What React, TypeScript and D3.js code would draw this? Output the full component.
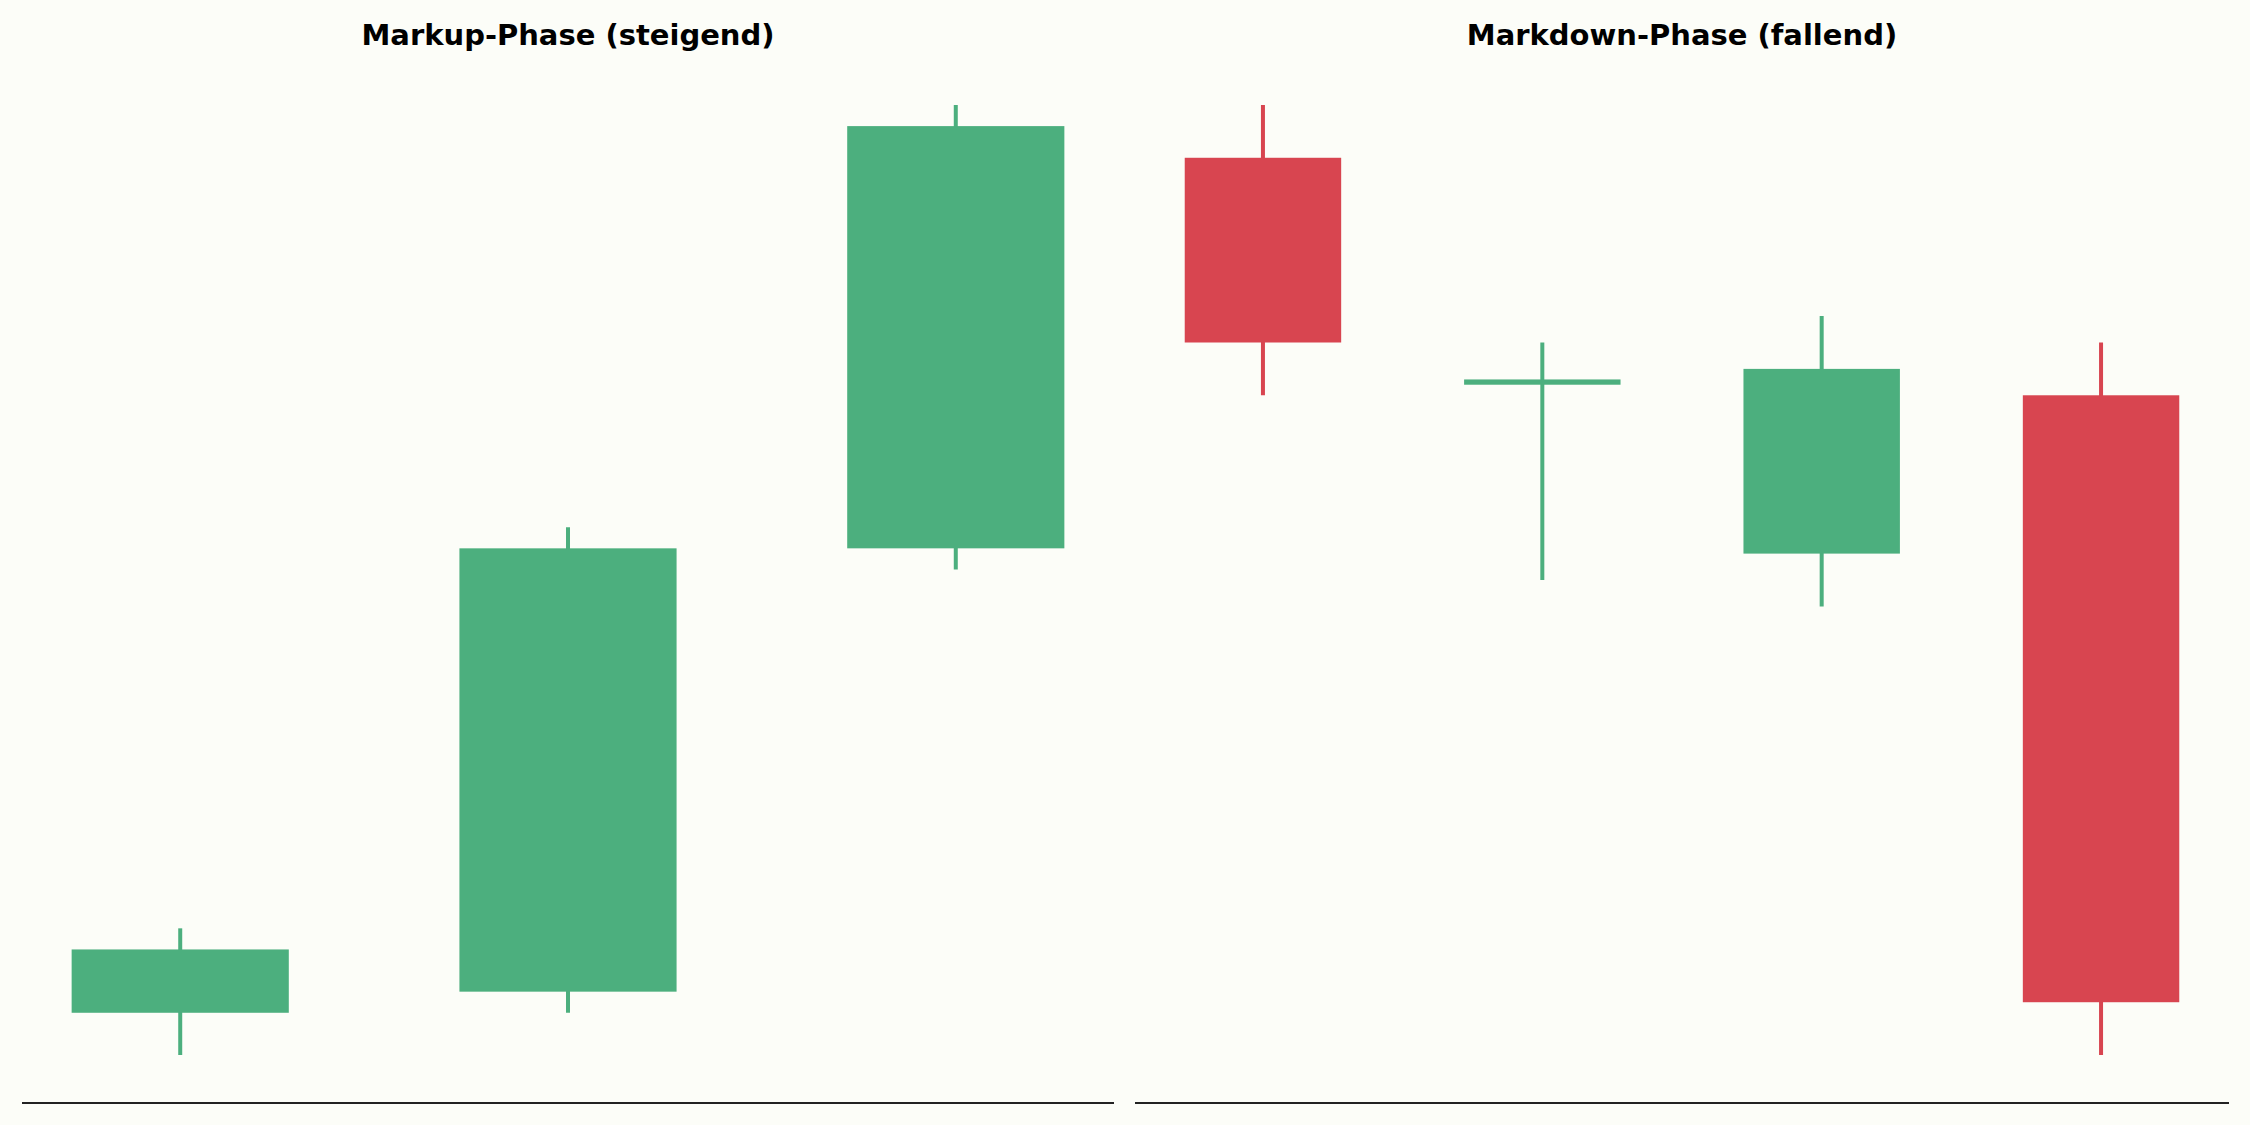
import { useEffect } from 'react'
import * as d3 from 'd3'

const WIDTH = 2250
const HEIGHT = 1125

const BG = '#fcfdf8'
const UP = '#4caf7e'
const DOWN = '#d84550'

// Markup-Phase candles (open, high, low, close)
const markupOpen = [100, 101, 122]
const markupHigh = [104, 123, 143]
const markupLow = [98, 100, 121]
const markupClose = [103, 122, 142]

// Markdown-Phase candles
const markdownOpen = [118, 109.4, 103, 109]
const markdownHigh = [120, 111, 112, 111]
const markdownLow = [109, 102, 101, 84]
const markdownClose = [111, 109.6, 110, 86]

const titles = ['Markup-Phase (steigend)', 'Markdown-Phase (fallend)']

const BODY_WIDTH = 0.56
const AXES_TOP = 57.5
const AXES_BOTTOM = 1102.5

interface Candle {
  o: number
  h: number
  l: number
  c: number
}

function zip(o: number[], h: number[], l: number[], c: number[]): Candle[] {
  return o.map((v, i) => ({ o: v, h: h[i], l: l[i], c: c[i] }))
}

function Panel({ candles, title, left, width }: { candles: Candle[]; title: string; left: number; width: number }) {
  const n = candles.length
  const x0 = -BODY_WIDTH / 2
  const x1 = n - 1 + BODY_WIDTH / 2
  const xPad = (x1 - x0) * 0.05
  const x = d3.scaleLinear().domain([x0 - xPad, x1 + xPad]).range([0, width])

  const yMin = d3.min(candles, (d) => d.l) ?? 0
  const yMax = d3.max(candles, (d) => d.h) ?? 1
  const yPad = (yMax - yMin) * 0.05
  const y = d3.scaleLinear().domain([yMin - yPad, yMax + yPad]).range([AXES_BOTTOM, AXES_TOP])

  const bw = x(BODY_WIDTH) - x(0)

  return (
    <g transform={`translate(${left},0)`}>
      <text
        x={width / 2}
        y={45}
        textAnchor="middle"
        fontFamily="DejaVu Sans"
        fontWeight="bold"
        fontSize={29}
        fill="#000"
      >
        {title}
      </text>
      {candles.map((d, i) => {
        const col = d.c >= d.o ? UP : DOWN
        const top = y(Math.max(d.o, d.c))
        const bot = y(Math.min(d.o, d.c))
        return (
          <g key={i}>
            <line x1={x(i)} x2={x(i)} y1={y(d.h)} y2={y(d.l)} stroke={col} strokeWidth={4} />
            <rect x={x(i) - bw / 2} y={top} width={bw} height={Math.max(bot - top, 1)} fill={col} />
          </g>
        )
      })}
      <line x1={0} x2={width} y1={1103} y2={1103} stroke="#222" strokeWidth={2} />
    </g>
  )
}

export default function App() {
  useEffect(() => {
    document.body.style.margin = '0'
  }, [])

  const markup = zip(markupOpen, markupHigh, markupLow, markupClose)
  const markdown = zip(markdownOpen, markdownHigh, markdownLow, markdownClose)

  return (
    <svg width={WIDTH} height={HEIGHT} style={{ display: 'block', background: BG }}>
      <rect width={WIDTH} height={HEIGHT} fill={BG} />
      <Panel candles={markup} title={titles[0]} left={22} width={1092} />
      <Panel candles={markdown} title={titles[1]} left={1135} width={1094} />
    </svg>
  )
}
